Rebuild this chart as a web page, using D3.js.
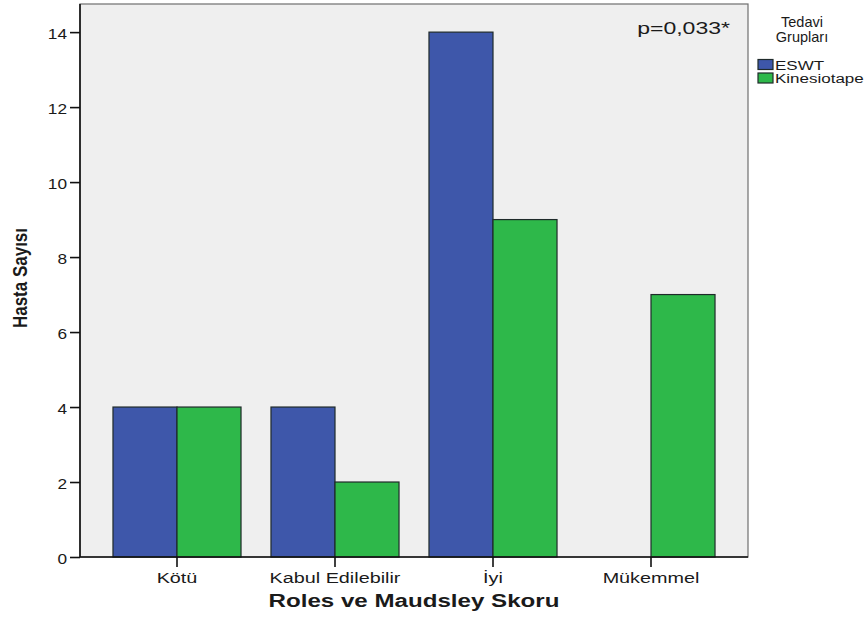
<!DOCTYPE html>
<html>
<head>
<meta charset="utf-8">
<script src="https://cdn.jsdelivr.net/npm/d3@7/dist/d3.min.js"></script>
<style>
  html, body { margin: 0; padding: 0; background: #ffffff; }
  svg { display: block; }
  text { font-family: "Liberation Sans", Arial, sans-serif; fill: #1a1a1a; }
</style>
</head>
<body>
<script>
// Patient counts by Roles & Maudsley score, per treatment group
const categories = ["Kötü", "Kabul Edilebilir", "İyi", "Mükemmel"];
const groups = ["ESWT", "Kinesiotape"];
const eswtValues = [4, 4, 14, 0];
const kinesiotapeValues = [4, 2, 9, 7];
const yTicks = [0, 2, 4, 6, 8, 10, 12, 14];
const groupColors = ["#3e57aa", "#2eb84a"];
const xTitle = "Roles ve Maudsley Skoru";
const yTitle = "Hasta Sayısı";
const legendTitle = ["Tedavi", "Grupları"];
const pLabel = "p=0,033*";

const W = 868, H = 624;
const plot = { left: 80, right: 748, top: 4, bottom: 557 };

const svg = d3.select("body").append("svg")
  .attr("width", W).attr("height", H);

const x = d3.scaleBand()
  .domain(categories)
  .range([plot.left + 18, plot.right - 18]);

const x1 = d3.scaleBand()
  .domain(groups)
  .range([0, x.bandwidth()])
  .paddingOuter(0.234);

const y = d3.scaleLinear()
  .domain([0, 14.75])
  .range([plot.bottom, plot.top]);

// plot background
svg.append("rect")
  .attr("x", plot.left).attr("y", plot.top)
  .attr("width", plot.right - plot.left)
  .attr("height", plot.bottom - plot.top)
  .attr("fill", "#efefef")
  .attr("stroke", "#6e6e6e")
  .attr("stroke-width", 1.2);

// bars
const rows = categories.map((c, i) => ({
  cat: c,
  vals: [eswtValues[i], kinesiotapeValues[i]]
}));

const cg = svg.append("g").selectAll("g")
  .data(rows).join("g")
  .attr("transform", d => `translate(${x(d.cat)},0)`);

cg.selectAll("rect")
  .data(d => d.vals.map((v, j) => ({ g: groups[j], v, j })).filter(e => e.v > 0))
  .join("rect")
  .attr("x", d => x1(d.g))
  .attr("width", x1.bandwidth())
  .attr("y", d => y(d.v))
  .attr("height", d => y(0) - y(d.v))
  .attr("fill", d => groupColors[d.j])
  .attr("stroke", "#1f2a2a")
  .attr("stroke-width", 1.2);

// helper for horizontally stretched text
function stretched(sel, sx) {
  sel.attr("transform", function () {
    const t = d3.select(this);
    return `translate(${t.attr("data-x")},${t.attr("data-y")}) scale(${sx},1)`;
  });
}

// y axis
const yAxis = d3.axisLeft(y).tickValues(yTicks).tickSize(10).tickPadding(3).tickSizeOuter(0);
const yg = svg.append("g").attr("transform", `translate(${plot.left},0)`).call(yAxis);
yg.select(".domain").attr("stroke", "#111").attr("stroke-width", 1.6)
  .attr("d", `M0,${plot.top}V${plot.bottom}`);
yg.selectAll(".tick line").attr("stroke", "#111").attr("stroke-width", 1.6);
yg.selectAll(".tick text")
  .attr("font-size", 15)
  .attr("font-family", "Liberation Sans, Arial, sans-serif")
  .attr("fill", "#222")
  .attr("dy", null)
  .attr("dominant-baseline", "central")
  .attr("x", 0)
  .attr("data-x", -13).attr("data-y", 0.5)
  .call(stretched, 1.15);

// x axis
const xAxis = d3.axisBottom(x).tickSize(10).tickPadding(4).tickSizeOuter(0);
const xg = svg.append("g").attr("transform", `translate(0,${plot.bottom})`).call(xAxis);
xg.select(".domain").attr("stroke", "#111").attr("stroke-width", 1.6)
  .attr("d", `M${plot.left},0H${plot.right}`);
xg.selectAll(".tick line").attr("stroke", "#111").attr("stroke-width", 1.6);
xg.selectAll(".tick text")
  .attr("font-size", 15)
  .attr("font-family", "Liberation Sans, Arial, sans-serif")
  .attr("fill", "#222")
  .attr("dy", null).attr("y", 0)
  .attr("data-x", 0).attr("data-y", 26)
  .call(stretched, 1.32);

// axis titles
svg.append("text")
  .attr("text-anchor", "middle")
  .attr("font-size", 19).attr("font-weight", "bold")
  .attr("transform", `translate(${(plot.left + plot.right) / 2},607) scale(1.27,1)`)
  .text(xTitle);

svg.append("text")
  .attr("text-anchor", "middle")
  .attr("font-size", 17).attr("font-weight", "bold")
  .attr("transform", `translate(27,278) scale(1.15,1) rotate(-90)`)
  .text(yTitle);

// significance annotation
svg.append("text")
  .attr("text-anchor", "end")
  .attr("font-size", 16)
  .attr("fill", "#222")
  .attr("transform", `translate(730,34) scale(1.44,1)`)
  .text(pLabel);

// legend
const lg = svg.append("g");
lg.selectAll("text.title")
  .data(legendTitle).join("text")
  .attr("class", "title")
  .attr("text-anchor", "middle")
  .attr("font-size", 14.5)
  .attr("fill", "#222")
  .attr("x", 802)
  .attr("y", (d, i) => 27 + i * 15)
  .text(d => d);

const items = lg.selectAll("g.item")
  .data(groups).join("g")
  .attr("class", "item")
  .attr("transform", (d, i) => `translate(758,${59.5 + i * 13.5})`);

items.append("rect")
  .attr("width", 15).attr("height", 10)
  .attr("fill", (d, i) => groupColors[i])
  .attr("stroke", "#1f2a2a").attr("stroke-width", 1.2);

items.append("text")
  .attr("font-size", 12.5)
  .attr("fill", "#111")
  .attr("transform", "translate(17,10) scale(1.36,1)")
  .text(d => d);
</script>
</body>
</html>
